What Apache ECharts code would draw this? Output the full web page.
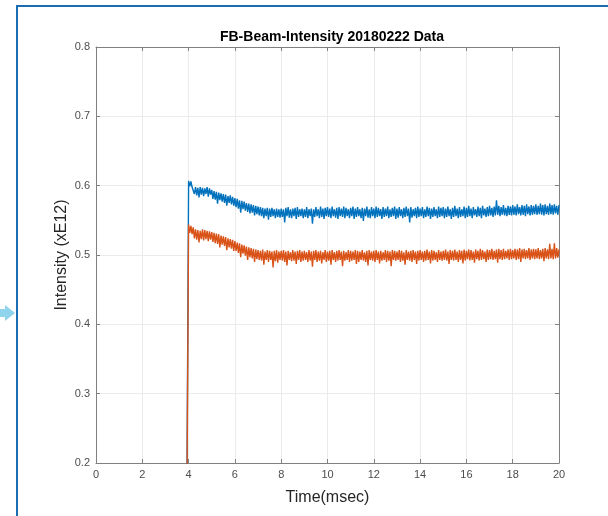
<!DOCTYPE html>
<html>
<head>
<meta charset="utf-8">
<script src="https://cdn.jsdelivr.net/npm/echarts@6/dist/echarts.min.js"></script>
<style>
html,body{margin:0;padding:0;background:#fff;}
#c{width:608px;height:516px;}
</style>
</head>
<body>
<div id="c"></div>
<script>
// Pre-beam baseline samples (clipped below axis) and sampled trace
const preTimes = [0, 3.9];
const preBlue = [0, 0];
const preOrange = [0, 0];
const sampleStart = 4.0;
const sampleStep = 0.05;

const blueValues = [
  0.607,0.599,0.606,0.598,0.600,0.588,0.598,0.586,0.597,0.583,0.598,0.587,0.597,0.585,0.596,0.588,0.598,0.584,0.596,0.587,
  0.594,0.581,0.592,0.580,0.591,0.574,0.590,0.579,0.589,0.577,0.588,0.575,0.587,0.571,0.585,0.575,0.586,0.573,0.584,0.571,
  0.582,0.569,0.581,0.567,0.579,0.561,0.578,0.566,0.577,0.564,0.575,0.562,0.574,0.560,0.573,0.561,0.572,0.557,0.571,0.559,
  0.570,0.557,0.569,0.556,0.568,0.553,0.567,0.556,0.568,0.551,0.567,0.555,0.568,0.556,0.566,0.553,0.567,0.555,0.566,0.554,
  0.567,0.555,0.566,0.547,0.568,0.556,0.569,0.554,0.566,0.553,0.567,0.556,0.568,0.552,0.569,0.555,0.566,0.556,0.567,0.553,
  0.566,0.555,0.569,0.553,0.566,0.556,0.567,0.545,0.566,0.555,0.569,0.556,0.566,0.553,0.570,0.555,0.567,0.552,0.568,0.556,
  0.569,0.555,0.567,0.553,0.570,0.556,0.566,0.554,0.568,0.552,0.569,0.556,0.567,0.555,0.570,0.553,0.568,0.556,0.566,0.553,
  0.568,0.556,0.570,0.552,0.567,0.555,0.569,0.556,0.566,0.553,0.568,0.549,0.567,0.556,0.570,0.554,0.566,0.553,0.569,0.556,
  0.567,0.553,0.570,0.555,0.568,0.556,0.566,0.552,0.569,0.555,0.567,0.556,0.570,0.553,0.566,0.555,0.568,0.556,0.570,0.552,
  0.567,0.554,0.569,0.556,0.566,0.553,0.568,0.555,0.570,0.556,0.567,0.547,0.569,0.554,0.566,0.556,0.568,0.553,0.570,0.555,
  0.567,0.556,0.569,0.553,0.566,0.555,0.570,0.556,0.568,0.552,0.567,0.555,0.569,0.556,0.566,0.553,0.570,0.555,0.568,0.556,
  0.569,0.553,0.567,0.555,0.570,0.556,0.566,0.552,0.568,0.555,0.571,0.556,0.567,0.553,0.569,0.555,0.566,0.556,0.570,0.553,
  0.568,0.555,0.571,0.556,0.567,0.553,0.569,0.557,0.566,0.555,0.570,0.556,0.568,0.553,0.571,0.557,0.567,0.555,0.569,0.556,
  0.571,0.557,0.568,0.555,0.570,0.557,0.579,0.558,0.571,0.556,0.569,0.558,0.572,0.557,0.568,0.556,0.571,0.558,0.570,0.557,
  0.572,0.558,0.570,0.557,0.573,0.559,0.569,0.557,0.572,0.558,0.571,0.556,0.573,0.559,0.570,0.557,0.572,0.558,0.571,0.559,
  0.573,0.558,0.571,0.559,0.574,0.558,0.572,0.557,0.573,0.559,0.571,0.558,0.574,0.559,0.572,0.558,0.573,0.560,0.571,0.558,
  0.572
];

const orangeValues = [
  0.544,0.532,0.542,0.530,0.540,0.524,0.537,0.522,0.536,0.518,0.535,0.523,0.537,0.521,0.536,0.523,0.535,0.520,0.534,0.522,
  0.533,0.519,0.532,0.517,0.531,0.516,0.530,0.511,0.528,0.515,0.527,0.513,0.526,0.507,0.524,0.511,0.523,0.509,0.522,0.506,
  0.520,0.506,0.518,0.503,0.517,0.497,0.515,0.502,0.514,0.499,0.512,0.493,0.511,0.497,0.510,0.495,0.509,0.490,0.508,0.494,
  0.507,0.493,0.506,0.492,0.508,0.486,0.505,0.493,0.507,0.490,0.506,0.493,0.505,0.482,0.506,0.491,0.507,0.489,0.505,0.493,
  0.506,0.492,0.507,0.490,0.505,0.485,0.506,0.493,0.504,0.491,0.507,0.492,0.505,0.487,0.506,0.493,0.507,0.490,0.505,0.492,
  0.506,0.493,0.504,0.490,0.507,0.492,0.505,0.483,0.506,0.493,0.507,0.490,0.505,0.492,0.506,0.488,0.504,0.493,0.507,0.490,
  0.505,0.492,0.506,0.486,0.507,0.493,0.504,0.490,0.506,0.492,0.507,0.493,0.505,0.484,0.506,0.492,0.504,0.493,0.507,0.490,
  0.506,0.492,0.505,0.493,0.507,0.487,0.506,0.490,0.505,0.493,0.507,0.492,0.504,0.490,0.506,0.485,0.507,0.493,0.505,0.492,
  0.506,0.490,0.507,0.493,0.505,0.488,0.506,0.492,0.504,0.493,0.507,0.490,0.506,0.492,0.505,0.484,0.507,0.493,0.506,0.492,
  0.505,0.493,0.507,0.490,0.506,0.492,0.504,0.486,0.507,0.493,0.505,0.492,0.506,0.490,0.507,0.493,0.505,0.487,0.506,0.492,
  0.507,0.493,0.505,0.490,0.506,0.492,0.508,0.493,0.505,0.488,0.507,0.492,0.506,0.493,0.504,0.490,0.507,0.493,0.505,0.492,
  0.506,0.493,0.508,0.492,0.505,0.487,0.507,0.493,0.506,0.492,0.508,0.493,0.505,0.490,0.507,0.493,0.506,0.488,0.508,0.492,
  0.506,0.494,0.508,0.492,0.507,0.493,0.505,0.489,0.508,0.494,0.506,0.492,0.509,0.493,0.507,0.494,0.505,0.490,0.508,0.493,
  0.507,0.494,0.509,0.493,0.506,0.494,0.508,0.489,0.509,0.494,0.507,0.493,0.509,0.494,0.506,0.495,0.508,0.493,0.509,0.494,
  0.507,0.495,0.509,0.493,0.508,0.494,0.510,0.490,0.508,0.495,0.509,0.494,0.507,0.495,0.510,0.493,0.508,0.495,0.509,0.494,
  0.508,0.495,0.510,0.494,0.507,0.495,0.509,0.491,0.510,0.495,0.508,0.494,0.516,0.495,0.509,0.494,0.517,0.495,0.510,0.496,
  0.508
];

const xTicks = [0,2,4,6,8,10,12,14,16,18,20];
const yTicks = [0.2,0.3,0.4,0.5,0.6,0.7,0.8];

function build(pre, vals) {
  const out = [];
  for (let i = 0; i < pre.length; i++) out.push([preTimes[i], pre[i]]);
  for (let i = 0; i < vals.length; i++) {
    out.push([+(sampleStart + i * sampleStep).toFixed(2), vals[i]]);
  }
  return out;
}

const axisColor = '#808080';
const labelColor = '#4d4d4d';
const font = '"Liberation Sans", Arial, Helvetica, sans-serif';

const chart = echarts.init(document.getElementById('c'), null, {renderer: 'canvas'});
chart.setOption({
  animation: false,
  backgroundColor: '#fff',
  title: {
    text: 'FB-Beam-Intensity 20180222 Data',
    left: 327,
    textAlign: 'center',
    top: 25,
    textStyle: {fontFamily: font, fontSize: 14, fontWeight: 'bold', color: '#000'}
  },
  grid: {left: 96, right: 49, top: 47, bottom: 53, containLabel: false},
  xAxis: [{
    type: 'value', min: xTicks[0], max: xTicks[xTicks.length - 1], interval: 2,
    name: 'Time(msec)', nameLocation: 'middle', nameGap: 27,
    nameTextStyle: {fontFamily: font, fontSize: 16, color: '#262626'},
    axisLine: {show: true, lineStyle: {color: axisColor, width: 1}},
    axisTick: {show: true, inside: true, length: 4, lineStyle: {color: axisColor}},
    axisLabel: {fontFamily: font, fontSize: 11, color: labelColor, margin: 6},
    splitLine: {show: true, lineStyle: {color: '#ebebeb', width: 1}}
  }, {
    type: 'value', position: 'top', min: xTicks[0], max: xTicks[xTicks.length - 1], interval: 2,
    axisLine: {show: true, onZero: false, lineStyle: {color: axisColor, width: 1}},
    axisTick: {show: true, inside: true, length: 4, lineStyle: {color: axisColor}},
    axisLabel: {show: false}, splitLine: {show: false}
  }],
  yAxis: [{
    type: 'value', min: yTicks[0], max: yTicks[yTicks.length - 1], interval: 0.1,
    name: 'Intensity (xE12)', nameLocation: 'middle', nameGap: 26, nameMoveOverlap: false,
    nameTextStyle: {fontFamily: font, fontSize: 16, color: '#262626'},
    axisLine: {show: true, lineStyle: {color: axisColor, width: 1}},
    axisTick: {show: true, inside: true, length: 4, lineStyle: {color: axisColor}},
    axisLabel: {fontFamily: font, fontSize: 11, color: labelColor, margin: 6,
      formatter: v => v.toFixed(1)},
    splitLine: {show: true, lineStyle: {color: '#ebebeb', width: 1}}
  }, {
    type: 'value', position: 'right', min: yTicks[0], max: yTicks[yTicks.length - 1], interval: 0.1,
    axisLine: {show: true, onZero: false, lineStyle: {color: axisColor, width: 1}},
    axisTick: {show: true, inside: true, length: 4, lineStyle: {color: axisColor}},
    axisLabel: {show: false}, splitLine: {show: false}
  }],
  series: [{
    type: 'line', name: 'blue', data: build(preBlue, blueValues),
    showSymbol: false, clip: true, sampling: null, lineStyle: {color: '#0072BD', width: 1.4},
    itemStyle: {color: '#0072BD'}
  }, {
    type: 'line', name: 'orange', data: build(preOrange, orangeValues),
    showSymbol: false, clip: true, sampling: null, lineStyle: {color: '#D95319', width: 1.4},
    itemStyle: {color: '#D95319'}
  }],
  graphic: [
    {type: 'rect', shape: {x: 16, y: 5, width: 592, height: 2}, style: {fill: '#1b6db3'}, z: 100},
    {type: 'rect', shape: {x: 16, y: 5, width: 2, height: 511}, style: {fill: '#1b6db3'}, z: 100},
    {type: 'polygon', shape: {points: [[0,309],[5,309],[5,305],[15,313],[5,321],[5,317],[0,317]]},
      style: {fill: '#8fd3ec'}, z: 100}
  ]
});
</script>
</body>
</html>
